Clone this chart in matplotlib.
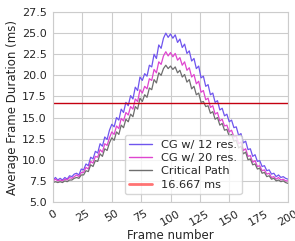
import matplotlib
matplotlib.use("Agg")
import matplotlib.pyplot as plt
from matplotlib.lines import Line2D
import seaborn as sns

# frame numbers (every 2nd frame)
frames = list(range(0, 201, 2))

cg12 = [7.6, 7.9, 7.6, 7.8, 7.6, 7.9, 7.7, 8.1, 8.0, 8.3,
        8.4, 8.2, 8.9, 8.8, 9.5, 9.3, 10.3, 10.1, 11.0, 10.8,
        11.9, 11.6, 12.7, 12.4, 13.5, 14.2, 13.9, 15.0, 14.7, 16.0,
        15.6, 16.8, 16.4, 17.6, 17.2, 18.6, 18.2, 19.8, 19.4, 20.2,
        19.9, 21.2, 21.0, 22.5, 22.0, 23.6, 23.2, 24.4, 25.0, 24.5,
        24.9, 24.4, 24.8, 23.9, 24.3, 23.3, 23.7, 22.6, 22.9, 21.7,
        22.0, 20.8, 21.1, 19.7, 19.9, 18.7, 18.9, 17.7, 17.9, 16.8,
        17.0, 15.9, 16.1, 15.2, 15.4, 14.5, 14.7, 13.8, 13.9, 12.9,
        13.1, 12.0, 12.2, 11.2, 11.3, 10.4, 10.6, 9.8, 9.9, 9.2,
        9.3, 8.7, 8.8, 8.3, 8.4, 8.0, 8.2, 7.9, 8.0, 7.8,
        7.7]

cg20 = [7.5, 7.7, 7.5, 7.6, 7.5, 7.7, 7.6, 7.9, 7.8, 8.0,
        8.2, 8.0, 8.5, 8.5, 9.1, 8.9, 9.8, 9.6, 10.4, 10.3,
        11.2, 10.9, 11.9, 11.7, 12.6, 13.3, 13.0, 14.0, 13.7, 14.9,
        14.6, 15.6, 15.3, 16.3, 16.0, 17.2, 16.9, 18.3, 17.9, 18.7,
        18.4, 19.6, 19.4, 20.7, 20.3, 21.6, 21.3, 22.3, 22.8, 22.3,
        22.7, 22.2, 22.6, 21.8, 22.1, 21.2, 21.6, 20.6, 20.9, 19.8,
        20.1, 19.0, 19.3, 18.0, 18.2, 17.1, 17.3, 16.2, 16.4, 15.4,
        15.6, 14.6, 14.8, 14.0, 14.1, 13.3, 13.5, 12.7, 12.8, 11.9,
        12.1, 11.1, 11.3, 10.4, 10.5, 9.7, 9.9, 9.2, 9.3, 8.7,
        8.8, 8.3, 8.4, 7.9, 8.0, 7.7, 7.9, 7.6, 7.7, 7.5,
        7.5]

critical = [7.3, 7.4, 7.3, 7.4, 7.3, 7.5, 7.4, 7.6, 7.6, 7.8,
            7.9, 7.8, 8.2, 8.2, 8.7, 8.6, 9.4, 9.2, 9.9, 9.8,
            10.7, 10.4, 11.3, 11.1, 12.0, 12.6, 12.3, 13.3, 13.0, 14.1,
            13.8, 14.8, 14.5, 15.4, 15.1, 16.3, 16.0, 17.3, 16.9, 17.7,
            17.4, 18.5, 18.3, 19.5, 19.1, 20.3, 20.0, 20.8, 21.2, 20.8,
            21.1, 20.7, 21.0, 20.3, 20.6, 19.8, 20.1, 19.2, 19.5, 18.4,
            18.7, 17.7, 17.9, 16.8, 16.9, 16.3, 16.4, 15.5, 15.7, 14.8,
            15.0, 14.1, 14.3, 13.5, 13.6, 12.8, 13.0, 12.2, 12.3, 11.4,
            11.6, 10.7, 10.9, 10.0, 10.1, 9.4, 9.5, 8.9, 9.0, 8.4,
            8.5, 8.0, 8.1, 7.7, 7.8, 7.5, 7.6, 7.4, 7.5, 7.3,
            7.2]

target_ms = 16.667

sns.set_style("whitegrid")
plt.rcParams['font.family'] = ['DejaVu Sans']

fig, ax = plt.subplots(figsize=(2.95, 2.41), dpi=100)
fig.subplots_adjust(left=0.18, right=0.976, top=0.95, bottom=0.162)

ax.plot(frames, cg12, color="#6f55ee", lw=0.9)
ax.plot(frames, cg20, color="#df45cf", lw=0.9)
ax.plot(frames, critical, color="#6e6e6e", lw=0.9)
ax.axhline(target_ms, color="#c40010", lw=1.0)

ax.set_xlim(0, 200)
ax.set_ylim(5.0, 27.5)
ax.set_xticks(range(0, 201, 25))
ax.set_yticks([5.0, 7.5, 10.0, 12.5, 15.0, 17.5, 20.0, 22.5, 25.0, 27.5])
ax.tick_params(axis='both', labelsize=8, pad=1)
plt.setp(ax.get_xticklabels(), rotation=30)
ax.set_xlabel("Frame number", fontsize=8.5, labelpad=1)
ax.set_ylabel("Average Frame Duration (ms)", fontsize=8.5, labelpad=2)
for s in ax.spines.values():
    s.set_color("#cccccc")

handles = [
    Line2D([], [], color="#6f55ee", lw=1.0),
    Line2D([], [], color="#df45cf", lw=1.0),
    Line2D([], [], color="#6e6e6e", lw=1.0),
    Line2D([], [], color="#ff5050", lw=2.0, alpha=0.8),
]
labels = ["CG w/ 12 res.", "CG w/ 20 res.", "Critical Path", "16.667 ms"]
ax.legend(handles, labels, loc="lower left", bbox_to_anchor=(0.28, 0.01),
          fontsize=8.2, handlelength=2.0, labelspacing=0.3, borderpad=0.4)

fig.savefig("out.png", dpi=100)
